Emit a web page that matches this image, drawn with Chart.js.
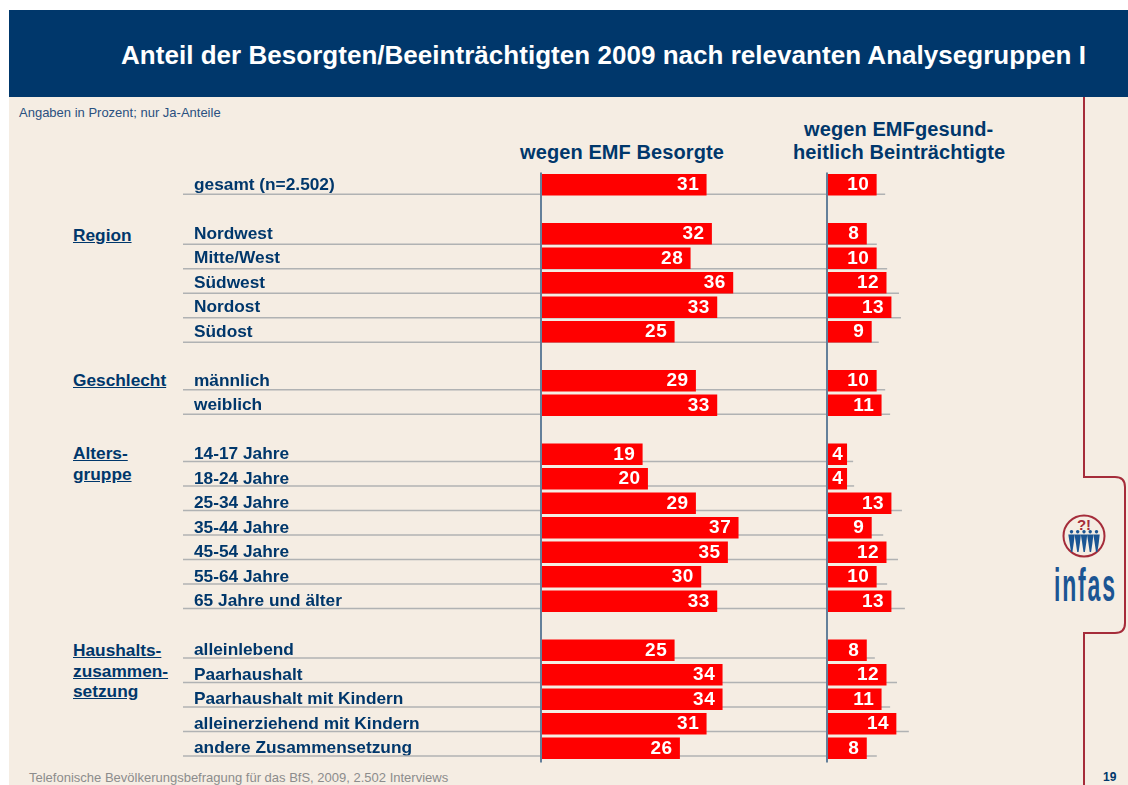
<!DOCTYPE html>
<html lang="de">
<head>
<meta charset="utf-8">
<title>Anteil der Besorgten/Beeinträchtigten 2009</title>
<script src="https://cdn.jsdelivr.net/npm/chart.js@4/dist/chart.umd.min.js"></script>
<style>
    html, body { margin: 0; padding: 0; background: #fff; }
    body { width: 1128px; height: 785px; overflow: hidden; position: relative; font-family: "Liberation Sans", Arial, sans-serif; }
    #page { position: absolute; left: 9px; top: 10px; width: 1119px; height: 775px; background: #f5ede3; }
    #header { position: absolute; left: 9px; top: 10px; width: 1119px; height: 87px; background: #00376b; }
    .text { position: absolute; white-space: nowrap; line-height: 1; color: #00376b; }
    #title { left: 121px; top: 42px; color: #fff; font-weight: bold; font-size: 26px; letter-spacing: 0.03px; }
    #note { left: 19px; top: 106px; font-size: 13px; color: #2a5080; }
    .head { font-weight: bold; font-size: 20px; letter-spacing: 0.1px; }
    .group { left: 73px; font-weight: bold; font-size: 17.3px; text-decoration: underline; }
    #source { left: 29px; top: 771px; font-size: 13px; color: #8c8c8c; }
    #pagenr { left: 1103px; top: 771px; font-size: 12px; font-weight: bold; }
    canvas, svg { position: absolute; top: 0; }
</style>
</head>
<body>
<div id="page"></div>
<div id="header"></div>
<div class="text" id="title">Anteil der Besorgten/Beeinträchtigten 2009 nach relevanten Analysegruppen I</div>
<div class="text" id="note">Angaben in Prozent; nur Ja-Anteile</div>
<div class="text head" style="left:520px;top:142px">wegen EMF Besorgte</div>
<div class="text head" style="left:804px;top:119px">wegen EMFgesund-</div>
<div class="text head" style="left:793px;top:142px">heitlich Beinträchtigte</div>
<div class="text group" style="top:227px">Region</div>
<div class="text group" style="top:372px">Geschlecht</div>
<div class="text group" style="top:445px">Alters-</div>
<div class="text group" style="top:466px">gruppe</div>
<div class="text group" style="top:642px">Haushalts-</div>
<div class="text group" style="top:663px">zusammen-</div>
<div class="text group" style="top:683px">setzung</div>
<div class="text" id="source">Telefonische Bevölkerungsbefragung für das BfS, 2009, 2.502 Interviews</div>
<div class="text" id="pagenr">19</div>

<svg width="1128" height="785" style="left:0">
    <path d="M1084 97 V477 H1115 Q1125 477 1125 487 V623 Q1125 633 1115 633 H1084 V785" fill="none" stroke="#a52c3a" stroke-width="2"/>
    <circle cx="1084" cy="536" r="20.5" fill="none" stroke="#a52c3a" stroke-width="2"/>
    <text x="1084" y="530" text-anchor="middle" font-family="Liberation Sans" font-weight="bold" font-size="15" fill="#a52c3a">?!</text>
    <g fill="#1b5593">
        <path id="man" d="M1071.5 533.4 a1.7 1.7 0 1 1 0.01 0 Z M1068.3 534.5 h6.4 l-0.9 8 l-1.4 9.5 h-1.4 l-1.4 -9.5 Z"/>
        <use href="#man" x="6.2"/>
        <use href="#man" x="12.5"/>
        <use href="#man" x="18.7"/>
        <use href="#man" x="25"/>
    </g>
    <text transform="translate(1054 601) scale(.5 1)" textLength="122" lengthAdjust="spacing" font-family="Liberation Sans Narrow, Liberation Sans" font-weight="bold" font-size="46" fill="#1b5593">infas</text>
</svg>

<canvas id="leftChart" width="830" height="785" style="left:0"></canvas>
<canvas id="rightChart" width="308" height="785" style="left:820px"></canvas>

<script>
// ======== DATA ========
const rowLabels = [
    'gesamt (n=2.502)', '',
    'Nordwest', 'Mitte/West', 'Südwest', 'Nordost', 'Südost', '',
    'männlich', 'weiblich', '',
    '14-17 Jahre', '18-24 Jahre', '25-34 Jahre', '35-44 Jahre', '45-54 Jahre', '55-64 Jahre', '65 Jahre und älter', '',
    'alleinlebend', 'Paarhaushalt', 'Paarhaushalt mit Kindern', 'alleinerziehend mit Kindern', 'andere Zusammensetzung'
];
const besorgte = [31, null, 32, 28, 36, 33, 25, null, 29, 33, null, 19, 20, 29, 37, 35, 30, 33, null, 25, 34, 34, 31, 26];
const beeintraechtigte = [10, null, 8, 10, 12, 13, 9, null, 10, 11, null, 4, 4, 13, 9, 12, 10, 13, null, 8, 12, 11, 14, 8];
// how far the thin row rule runs on the right hand scale
const ruleEnds = [11.8, null, 10.1, 12.2, 14.6, 15, 10.5, null, 11.8, 12.8, null, 5.3, 5.5, 15.2, 11.4, 14.4, 12.2, 15.8, null, 9.7, 14.2, 12.8, 16.6, 10.1];

// ======== STYLE ========
const NAVY = '#00376b';
const RULE = '#b0b2b3';
const AXIS = '#64809a';
const PLOT_TOP = 172.5;
const PLOT_BOTTOM = 760.5;

// rule sits a bit lower or higher under the bars depending on the block
function ruleDrop(row) {
    if (row < 2) return 9.5;
    if (row < 7) return 10.5;
    if (row < 10) return 9;
    if (row < 18) return 7.2;
    return 7.8;
}

function valueLabelsAndRules(ruleEndOf) {
    return {
        id: 'valueLabelsAndRules',
        beforeDatasetsDraw(chart) {
            const { ctx, scales: { x, y }, chartArea } = chart;
            ctx.save();
            ctx.strokeStyle = RULE;
            ctx.lineWidth = 1.5;
            rowLabels.forEach((label, row) => {
                if (!label) return;
                const yPos = y.getPixelForValue(row) + ruleDrop(row);
                const [x0, x1] = ruleEndOf(row, x, chartArea);
                ctx.beginPath();
                ctx.moveTo(x0, yPos);
                ctx.lineTo(x1, yPos);
                ctx.stroke();
            });
            ctx.restore();
        },
        afterDatasetsDraw(chart) {
            const { ctx, chartArea } = chart;
            const bars = chart.getDatasetMeta(0).data;
            const values = chart.data.datasets[0].data;

            ctx.save();
            ctx.strokeStyle = AXIS;
            ctx.lineWidth = 2;
            ctx.beginPath();
            ctx.moveTo(chartArea.left, chartArea.top);
            ctx.lineTo(chartArea.left, chartArea.bottom + 2);
            ctx.stroke();

            ctx.fillStyle = '#fff';
            ctx.font = 'bold 19px "Liberation Sans"';
            ctx.letterSpacing = '0.5px';
            ctx.textAlign = 'right';
            ctx.textBaseline = 'middle';
            values.forEach((value, i) => {
                if (value === null) return;
                // the single 4 sits closer to the bar end than the rest
                const inset = value < 5 ? 3.5 : 7;
                ctx.fillText(value, bars[i].x - inset, bars[i].y + 0.5);
            });
            ctx.restore();
        }
    };
}

function makeChart(canvasId, values, xMax, padding, showLabels, ruleEndOf) {
    return new Chart(document.getElementById(canvasId), {
        type: 'bar',
        data: {
            labels: rowLabels,
            datasets: [{
                data: values,
                backgroundColor: '#ff0000',
                barThickness: 21
            }]
        },
        options: {
            indexAxis: 'y',
            responsive: false,
            animation: false,
            layout: { padding },
            plugins: { legend: { display: false }, tooltip: { enabled: false } },
            scales: {
                x: { display: false, min: 0, max: xMax },
                y: {
                    display: showLabels,
                    grid: { display: false },
                    border: { display: false },
                    afterFit(scale) { if (showLabels) scale.width = 347; },
                    ticks: {
                        autoSkip: false,
                        crossAlign: 'far',
                        color: NAVY,
                        font: { family: '"Liberation Sans"', size: 17.3, weight: 'bold' }
                    }
                }
            }
        },
        plugins: [valueLabelsAndRules(ruleEndOf)]
    });
}

// 5.33 px per percent on the left, 4.93 px on the right
makeChart('leftChart', besorgte, 286 / 5.33,
    { left: 194, right: 3, top: PLOT_TOP, bottom: 785 - PLOT_BOTTOM }, true,
    (row, x, area) => [183, area.right]);

makeChart('rightChart', beeintraechtigte, 173 / 4.93,
    { left: 7, right: 128, top: PLOT_TOP, bottom: 785 - PLOT_BOTTOM }, false,
    (row, x, area) => [area.left, x.getPixelForValue(ruleEnds[row])]);
</script>
</body>
</html>
